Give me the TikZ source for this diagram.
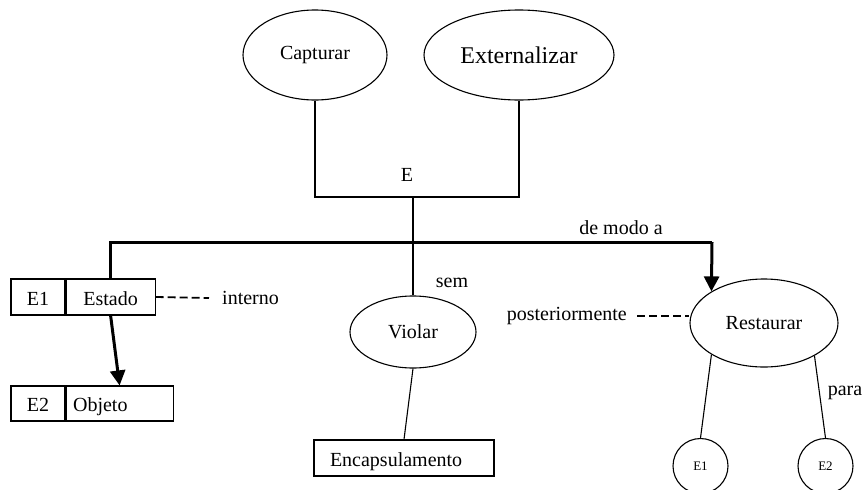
\documentclass[tikz,border=0pt]{standalone}
\usepackage{fontspec}
\setmainfont{Liberation Serif}
\usetikzlibrary{shapes.geometric,arrows.meta}
\tikzset{
  thin line/.style={line width=1.1pt},
  thk/.style={line width=3pt},
  thkarrow/.style={line width=3pt,-{Triangle[width=15pt,length=15pt]}},
  dash line/.style={line width=1.8pt,dash pattern=on 8pt off 4pt},
  oval/.style={draw,ellipse,line width=1.1pt,inner sep=0pt,font=\fontsize{20}{22}\selectfont},
  box/.style={draw,rectangle,line width=1.1pt,inner sep=0pt,text height=16pt,text depth=0pt,font=\fontsize{20}{22}\selectfont},
  lbl/.style={inner sep=0pt,font=\fontsize{20}{22}\selectfont},
  small circ/.style={draw,circle,line width=1.1pt,inner sep=0pt,minimum size=55pt,font=\fontsize{13}{15}\selectfont}
}
\begin{document}
\begin{tikzpicture}[x=1pt,y=-1pt]
\useasboundingbox (0,0) rectangle (868,490);
\clip (0,0) rectangle (868,490);
% top ellipses
\node[oval,minimum width=144pt,minimum height=90pt] (cap) at (315,55) {Capturar};
\node[oval,minimum width=190pt,minimum height=90pt,font=\fontsize{24}{28}\selectfont] (ext) at (519,55) {Externalizar};
\coordinate (j) at (413,197);
\draw[thin line] (cap.south) |- (j) -| (ext.south);
\node[lbl] (lE) at (407,175) {E};
% middle
\node[oval,minimum width=126pt,minimum height=72pt] (viol) at (413,332) {Violar};
\draw[thin line] (j) -- (viol.north);
\node[lbl] (lsem) at (452,283) {sem};
\node[box,minimum height=36pt,text width=148pt,inner xsep=16pt,align=left] (enc) at (404,458) {Encapsulamento};
\draw[thin line] (viol.south) -- (enc.north);
% left boxes
\node[box,minimum width=54pt,minimum height=36pt] (e1b) at (38,297) {E1};
\node[box,minimum width=89pt,minimum height=36pt,anchor=west] (est) at (e1b.east) {Estado};
\node[box,minimum width=54pt,minimum height=35pt] (e2b) at (38,403.5) {E2};
\node[box,minimum height=35pt,text width=93pt,inner xsep=7pt,align=left,anchor=west] (obj) at (e2b.east) {Objeto};
\draw[thkarrow] (est.south) -- (obj.north);
\node[lbl,anchor=west] (int) at (222,298) {interno};
\draw[dash line] (est.east) -- ([xshift=-13pt]int.west);
% right
\node[oval,minimum width=148pt,minimum height=88pt] (rest) at (764,323) {Restaurar};
\coordinate (tr) at (712,242);
\draw[thk] (est.north) |- (tr);
\draw[thkarrow] (tr) -- (rest.149);
\node[lbl] (lmodo) at (621,228) {de modo a};
\node[lbl,anchor=east] (post) at (627,316) {posteriormente};
\draw[dash line] ([xshift=10pt]post.east) -- (post.east -| rest.west);
\node[small circ] (c1) at (700.5,466) {E1};
\node[small circ] (c2) at (825.5,466) {E2};
\draw[thin line] (rest.211) -- (c1.north);
\draw[thin line] (rest.327) -- (c2.north);
\node[lbl] (lpara) at (845,393) {para};
\end{tikzpicture}
\end{document}
